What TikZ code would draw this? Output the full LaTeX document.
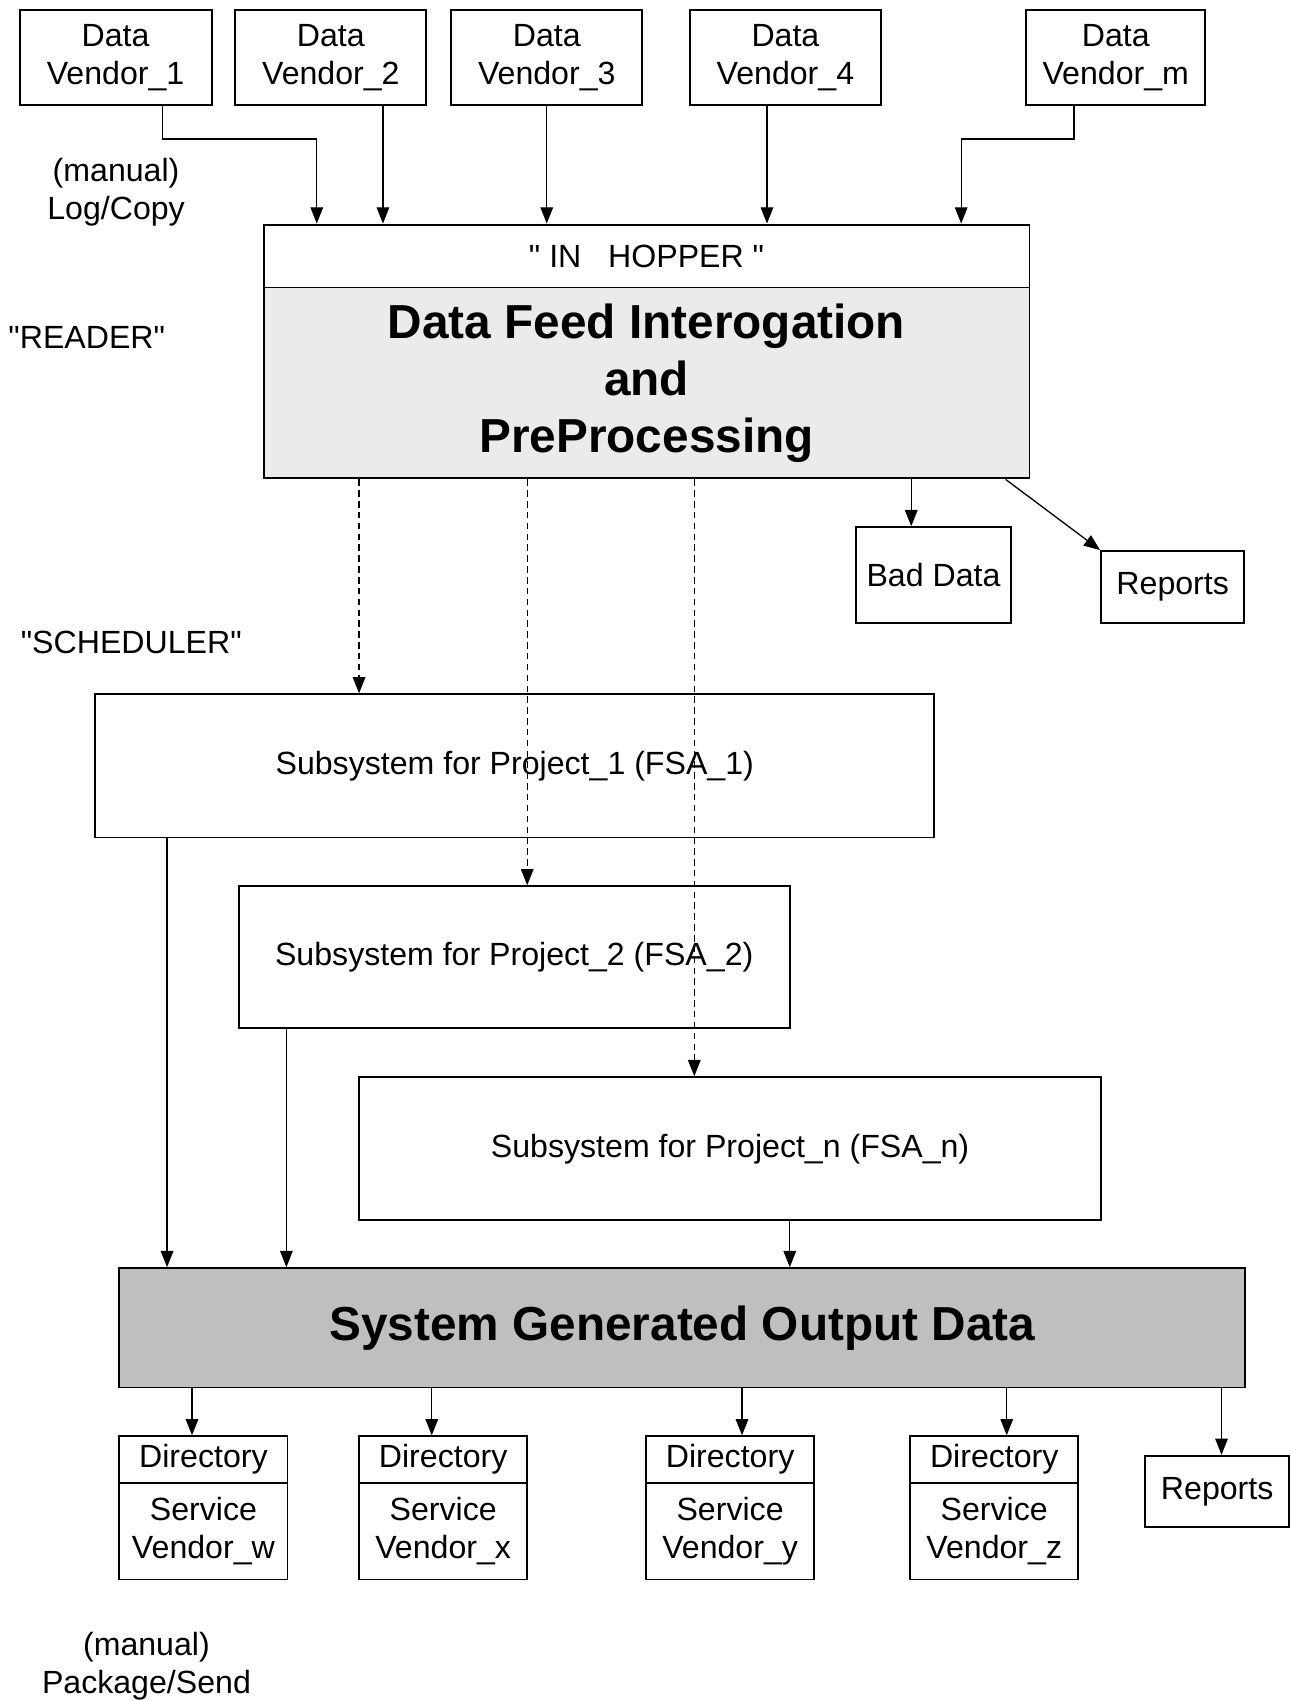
\documentclass[tikz,border=0pt]{standalone}
\usepackage{fontspec}
\setmainfont{Liberation Sans}
\usepackage{tikz}
\usetikzlibrary{arrows.meta}
\usetikzlibrary{calc}
\tikzstyle{box}=[draw,line width=0.9pt,inner sep=0pt,align=center,font=\fontsize{14.8}{17.8}\selectfont]
\tikzstyle{bigbox}=[box,font=\fontsize{22}{26.2}\selectfont\bfseries]
\tikzstyle{flow}=[-{Triangle[length=7.5pt,width=5.8pt]},line width=0.6pt]
\tikzstyle{feed}=[flow,dash pattern=on 3pt off 2pt]
\tikzstyle{note}=[align=center,font=\fontsize{14.8}{17.8}\selectfont]
\newcommand{\qq}{\textquotedbl}

\begin{document}
\begin{tikzpicture}[x=0.5pt,y=-0.5pt]

   \useasboundingbox (0,0) rectangle (1190,1568);

%  data vendors
    \foreach \x/\w/\name/\id in {106.5/88.5/1/v1, 305/88/2/v2, 504/88/3/v3, 724/88/4/v4, 1028.5/82.5/m/vm}
        \node[box,minimum width=\w pt,minimum height=44pt] (\id) at (\x,53) {Data\\Vendor\_\name};

  \node[box,minimum width=353pt,minimum height=29pt] (hop) at (596,236) {\qq~IN~~~HOPPER~\qq};
  \node[bigbox,fill=black!8,minimum width=353pt,minimum height=88pt] (dfi) at (596,353) {Data Feed Interogation\\and\\PreProcessing};

\draw[flow] (v1.south -| 150,0) |- (292,128) -- (hop.north -| 292,0);
\draw[flow] (vm.south -| 990,0) |- (886,128) -- (hop.north -| 886,0);
    \foreach \x/\id in {353/v2, 504/v3, 707/v4}
        \draw[flow] (\id.south -| \x,0) -- (hop.north -| \x,0);

\node[note] (logcopy) at (107,177) {(manual)\\Log/Copy};
\node[note] (reader) at (80,311) {\qq READER\qq};
\node[note] (sched) at (121,592) {\qq SCHEDULER\qq};
\node[note] (packsend) at (135,1536) {(manual)\\Package/Send};

%  rejects and reports
\node[box,minimum width=71.5pt,minimum height=44pt] (bad) at (860.5,530) {Bad Data};
\node[box,minimum width=66pt,minimum height=33pt] (rep) at (1081,541) {Reports};
\draw[flow] (dfi.south -| 840,0) -- (bad.north -| 840,0);
\draw[flow] (dfi.south -| 927,0) -- (rep.north west);

%  subsystems
\node[box,minimum width=386.5pt,minimum height=66pt] (sub1) at (474.5,706) {Subsystem for Project\_1 (FSA\_1)};
\node[box,minimum width=254pt,minimum height=65.5pt] (sub2) at (474,882.5) {Subsystem for Project\_2 (FSA\_2)};
\node[box,minimum width=342pt,minimum height=66pt] (subn) at (673,1059) {Subsystem for Project\_n (FSA\_n)};

    \foreach \x/\id in {331/sub1, 486/sub2, 640/subn}
        \draw[feed] (dfi.south -| \x,0) -- (\id.north -| \x,0);

\node[bigbox,fill=black!25,minimum width=519pt,minimum height=55pt] (out) at (629,1224) {System Generated Output Data};

    \foreach \x/\id in {154/sub1, 264/sub2, 728/subn}
        \draw[flow] (\id.south -| \x,0) -- (out.north -| \x,0);

%  service vendor directories
    \foreach \x/\v in {187.5/w, 408.5/x, 673/y, 916.5/z} {
        \node[box,minimum width=77.5pt,minimum height=21.5pt] (dir\v) at (\x,1345.5) {Directory};
        \node[box,minimum width=77.5pt,minimum height=44.5pt] (svc\v) at (\x,1411.5) {Service\\Vendor\_\v};
    }
    \foreach \x/\v in {177/w, 398/x, 684/y, 928/z}
        \draw[flow] (out.south -| \x,0) -- (dir\v.north -| \x,0);

\node[box,minimum width=66.5pt,minimum height=33pt] (rep2) at (1122,1375) {Reports};
\draw[flow] (out.south -| 1126,0) -- (rep2.north -| 1126,0);

\end{tikzpicture}
\end{document}
